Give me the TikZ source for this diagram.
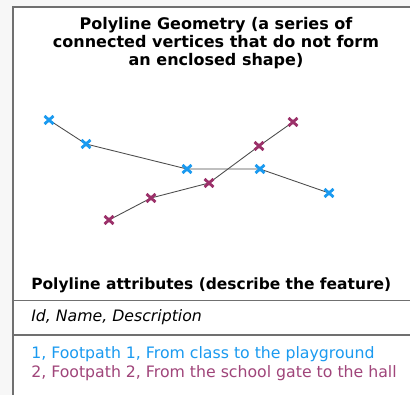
\documentclass[tikz,border=0pt]{standalone}
\usepackage{fontspec}
\setmainfont{DejaVu Sans}
\definecolor{fpblue}{HTML}{1A9AF0}
\definecolor{fppurple}{HTML}{9B3069}
\definecolor{fptext}{HTML}{A0457A}
\definecolor{framegray}{HTML}{707070}
\definecolor{bggray}{HTML}{F7F7F7}
\begin{document}
\begin{tikzpicture}[x=0.75pt,y=-0.75pt,
  seg/.style={draw=black!70,line width=0.65pt},
  frame/.style={draw=framegray,line width=1.1pt},
  mark blue/.style={fpblue,line width=2.1pt},
  mark purple/.style={fppurple,line width=2.1pt},
  title/.style={font=\fontsize{12}{13.5}\selectfont\bfseries,align=center},
  hdr/.style={font=\fontsize{11.6}{13}\selectfont\bfseries,anchor=west,inner sep=0pt},
  txt/.style={font=\fontsize{11.8}{13}\selectfont,anchor=west,inner sep=0pt}]
\fill[bggray] (0,0) rectangle (410,395);
\fill[white] (13,7) rectangle (410,395);
\useasboundingbox (0,0) rectangle (410,395);
\draw[frame] (410,7) -- (13,7) -- (13,395);
\draw[frame] (13,300.5) -- (410,300.5);
\draw[frame] (13,335) -- (410,335);
\node[title] (t) at (216,43) {Polyline Geometry (a series of\\connected vertices that do not form\\an enclosed shape)};
\foreach \n/\x/\y in {b1/49/120,b2/86/144,b3/187/169,b4/260/169,b5/329/193}
  \coordinate (\n) at (\x,\y);
\foreach \n/\x/\y in {p1/109/220,p2/151/198,p3/209/183,p4/259/146,p5/293/122}
  \coordinate (\n) at (\x,\y);
\draw[seg] (b1) -- (b2) -- (b3) -- (b4) -- (b5);
\draw[seg] (p1) -- (p2) -- (p3) -- (p4) -- (p5);
\foreach \n in {b1,b2,b3,b4,b5}
  \draw[mark blue] ([shift={(-4.5,-4)}]\n) -- ([shift={(4.5,4)}]\n) ([shift={(-4.5,4)}]\n) -- ([shift={(4.5,-4)}]\n);
\foreach \n in {p1,p2,p3,p4,p5}
  \draw[mark purple] ([shift={(-4.5,-4)}]\n) -- ([shift={(4.5,4)}]\n) ([shift={(-4.5,4)}]\n) -- ([shift={(4.5,-4)}]\n);
\node[hdr] (h) at (31,285) {Polyline attributes (describe the feature)};
\node[txt,font=\fontsize{11.8}{13}\selectfont\itshape] (f) at (31,317) {Id, Name, Description};
\node[txt,text=fpblue] (r1) at (31,354) {1, Footpath 1, From class to the playground};
\node[txt,text=fptext] (r2) at (31,373) {2, Footpath 2, From the school gate to the hall};
\end{tikzpicture}
\end{document}
